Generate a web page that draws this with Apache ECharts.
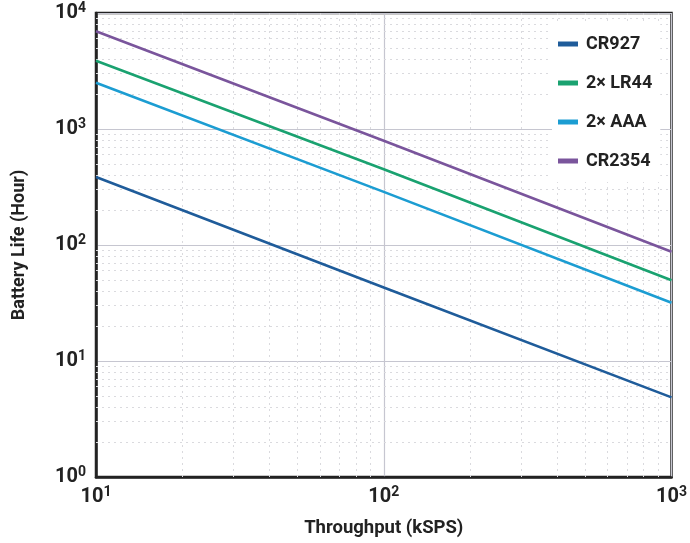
<!DOCTYPE html>
<html>
<head>
<meta charset="utf-8">
<script src="https://cdn.jsdelivr.net/npm/echarts@6/dist/echarts.min.js"></script>
<style>html,body{margin:0;padding:0;background:#fff}#c{width:690px;height:543px}</style>
</head>
<body>
<div id="c"></div>
<script>
// Throughput (kSPS) sample points
const throughput = [10, 100, 1000];
// Battery life (hours)
const cr927 = [385, 43, 4.86];
const lr44 = [3880, 450, 49.7];
const aaa = [2500, 287, 31.8];
const cr2354 = [6950, 792, 87.5];
const seriesNames = ['CR927', '2× LR44', '2× AAA', 'CR2354'];
const seriesColors = ['#1f5c9a', '#1aa270', '#1c9dd2', '#7a559c'];
// minor grid positions
const xMinor = [20,30,40,50,60,70,80,90,200,300,400,500,600,700,800,900];
const yMinor = [];
[1,10,100,1000].forEach(d => { for (let k = 2; k <= 9; k++) yMinor.push(k*d); });

const FONT = 'Roboto';
const labelRich = {
  b: {fontSize: 20, fontWeight: 'bold', color: '#222', fontFamily: FONT, lineHeight: 24},
  s: {fontSize: 14, fontWeight: 'bold', color: '#222', fontFamily: FONT, verticalAlign: 'top', lineHeight: 24, padding:[0,0,10,0]}
};
function fmt(v) {
  const e = Math.round(Math.log10(v));
  return '{b|10}{s|' + e + '}';
}
const minorStyle = {color: '#dadade', width: 1, type: [2, 4]};
const datasets = [cr927, lr44, aaa, cr2354];
const series = datasets.map((d, i) => ({
  name: seriesNames[i],
  type: 'line',
  data: throughput.map((x, j) => [x, d[j]]),
  showSymbol: false,
  symbol: 'none',
  lineStyle: {width: 2.6, color: seriesColors[i], type: 'solid'},
  itemStyle: {color: seriesColors[i]},
  z: 5
}));
series.unshift({
  type: 'line',
  data: [],
  silent: true,
  z: 1,
  markLine: {
    silent: true,
    symbol: 'none',
    label: {show: false},
    animation: false,
    lineStyle: minorStyle,
    data: xMinor.map(v => ({xAxis: v})).concat(yMinor.map(v => ({yAxis: v})))
  }
});
const chart = echarts.init(document.getElementById('c'));
chart.setOption({
  animation: false,
  backgroundColor: '#fff',
  grid: {left: 96, right: 14, top: 13, bottom: 66, show: true, borderColor: '#222', borderWidth: 2.5, containLabel: false},
  legend: {
    orient: 'vertical',
    left: 552, top: 23,
    padding: [12, 8, 12, 6],
    backgroundColor: '#fff',
    z: 20,
    itemWidth: 20, itemHeight: 5, itemGap: 21,
    icon: 'rect',
    itemStyle: {borderWidth: 0},
    data: seriesNames.map((n, i) => ({name: n, itemStyle: {color: seriesColors[i], borderWidth: 0}})),
    textStyle: {fontSize: 18, fontWeight: 'bold', color: '#222', fontFamily: FONT, padding: [0, 0, 0, 3]}
  },
  xAxis: {
    type: 'log', logBase: 10, min: 10, max: 1000,
    name: 'Throughput (kSPS)', nameLocation: 'middle', nameGap: 42,
    nameTextStyle: {fontSize: 18.5, fontWeight: 'bold', color: '#222', fontFamily: FONT},
    axisLine: {show: true, lineStyle: {color: '#222', width: 2.5}},
    axisTick: {show: false},
    axisLabel: {formatter: fmt, rich: labelRich, margin: 8},
    splitLine: {show: true, lineStyle: {color: '#c6c6d0', width: 1.2}},
    minorTick: {show: false}
  },
  yAxis: {
    type: 'log', logBase: 10, min: 1, max: 10000,
    name: 'Battery Life (Hour)', nameLocation: 'middle', nameGap: 68,
    nameTextStyle: {fontSize: 18, fontWeight: 'bold', color: '#222', fontFamily: FONT},
    axisLine: {show: true, lineStyle: {color: '#222', width: 2.5}},
    axisTick: {show: false},
    axisLabel: {formatter: fmt, rich: labelRich, margin: 10},
    splitLine: {show: true, lineStyle: {color: '#c6c6d0', width: 1.2}}
  },
  series: series
});
</script>
</body>
</html>
